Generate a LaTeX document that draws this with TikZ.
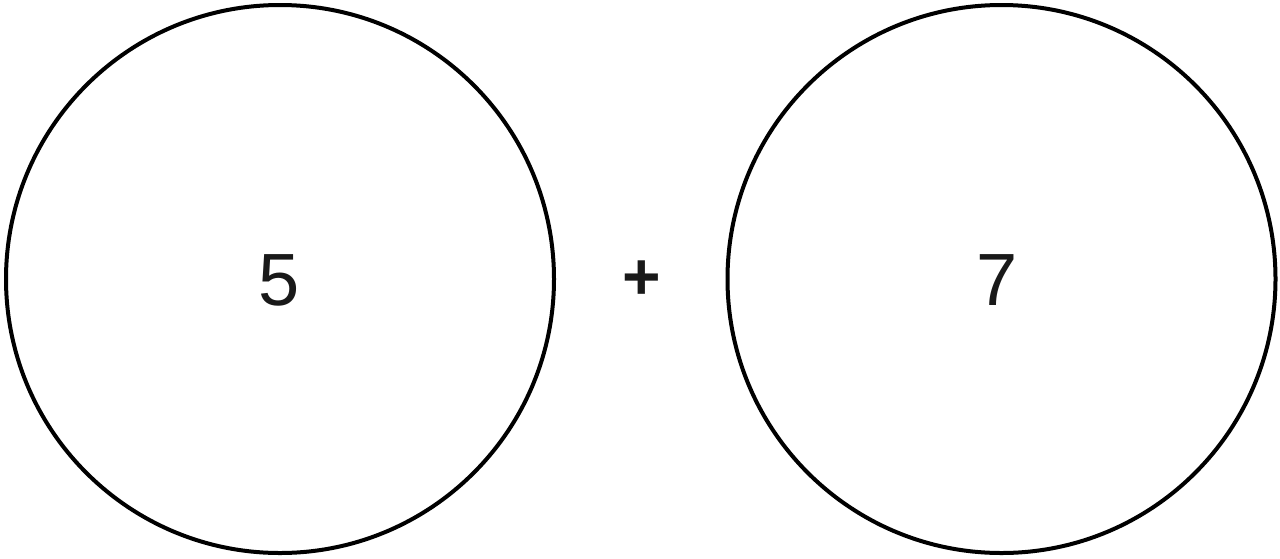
\documentclass[tikz,border=0pt]{standalone}
\usepackage{fontspec}
\setmainfont{Liberation Sans}
\begin{document}
\begin{tikzpicture}[x=1pt,y=-1pt,
  ring/.style={draw=black,line width=4pt,circle,minimum size=548pt,inner sep=0pt,outer sep=0pt},
  digit/.style={inner sep=0pt,font=\fontsize{74}{80}\selectfont,text=black!90},
  plussign/.style={inner sep=0pt,font=\bfseries\fontsize{66}{72}\selectfont,text=black!90}]
\useasboundingbox[fill=white] (0,0) rectangle (1280,558);
\node[ring] (left) at (280,279) {};
\node[ring] (right) at (1001.5,279) {};
\node[digit] (five) at (279,280) {5};
\node[digit] (seven) at (997.5,280) {7};
\node[plussign] (plus) at (641.5,280) {+};
\end{tikzpicture}
\end{document}
